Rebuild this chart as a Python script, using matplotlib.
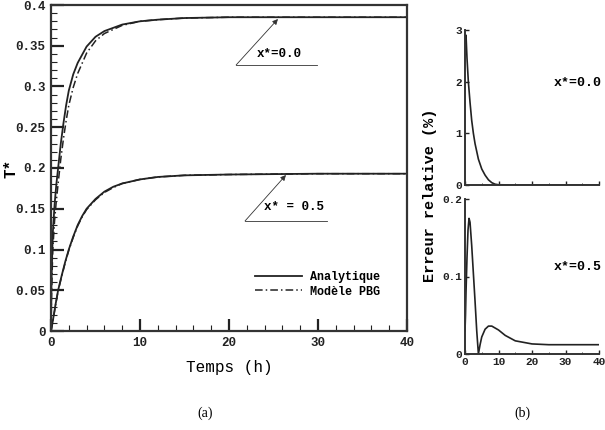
import matplotlib
matplotlib.use("Agg")
import matplotlib.pyplot as plt
from matplotlib.ticker import MultipleLocator, FuncFormatter

# ---- data ----
t_a0 = [0, 0.05, 0.2, 0.4, 0.6, 0.85, 1.1, 1.4, 1.7, 2.0, 2.5, 3.0, 4.0, 5.0, 6.0, 8.0, 10, 12, 15, 20, 25, 30, 40]
T_a0 = [0, 0.06, 0.12, 0.155, 0.18, 0.205, 0.23, 0.255, 0.277, 0.295, 0.315, 0.329, 0.349, 0.361, 0.368, 0.376, 0.380, 0.382, 0.384, 0.385, 0.385, 0.385, 0.385]
t_p0 = [0, 0.05, 0.2, 0.4, 0.6, 0.85, 1.1, 1.4, 1.7, 2.0, 2.5, 3.0, 4.0, 5.0, 6.0, 8.0, 10, 12, 15, 20, 25, 30, 40]
T_p0 = [0, 0.04, 0.10, 0.135, 0.16, 0.186, 0.211, 0.236, 0.258, 0.277, 0.299, 0.316, 0.341, 0.356, 0.365, 0.375, 0.380, 0.382, 0.384, 0.385, 0.385, 0.385, 0.385]
t_a5 = [0, 0.2, 0.5, 0.8, 1.2, 1.6, 2.0, 2.5, 3.0, 3.5, 4.0, 5.0, 6.0, 7.0, 8.0, 10, 12, 15, 20, 25, 30, 40]
T_a5 = [0, 0.012, 0.032, 0.05, 0.068, 0.085, 0.1, 0.116, 0.13, 0.141, 0.15, 0.162, 0.171, 0.177, 0.181, 0.186, 0.189, 0.191, 0.192, 0.1925, 0.193, 0.193]
T_p5 = [0, 0.011, 0.031, 0.049, 0.067, 0.084, 0.099, 0.115, 0.129, 0.140, 0.149, 0.161, 0.170, 0.176, 0.181, 0.186, 0.189, 0.191, 0.192, 0.1925, 0.193, 0.193]

t_e0 = [0, 0.3, 0.6, 1.0, 1.5, 2.0, 2.5, 3.0, 4.0, 5.0, 6.0, 7.0, 8.0, 9.0, 10, 15, 20, 30, 40]
e_0 = [2.75, 2.9, 2.45, 2.0, 1.6, 1.25, 1.0, 0.8, 0.5, 0.31, 0.19, 0.1, 0.045, 0.015, 0.005, 0, 0, 0, 0]
t_e5 = [0, 0.15, 0.3, 0.6, 0.9, 1.2, 1.5, 2.0, 2.5, 3.0, 3.5, 4.0, 4.5, 5.0, 6.0, 7.0, 8.0, 10, 12, 15, 20, 25, 30, 40]
e_5 = [0.03, 0.05, 0.08, 0.125, 0.16, 0.175, 0.17, 0.14, 0.104, 0.068, 0.03, 0.0, 0.012, 0.022, 0.032, 0.036, 0.036, 0.031, 0.024, 0.017, 0.013, 0.012, 0.012, 0.012]

x_ticks = [0, 10, 20, 30, 40]
labels_pos = ["x*=0.0", "x* = 0.5"]
legend_names = ["Analytique", "Modèle PBG"]

MONO = ["Liberation Mono", "DejaVu Sans Mono"]
plt.rcParams["font.family"] = MONO
plt.rcParams["font.weight"] = "bold"
DASHDOT = (0, (5, 2, 1, 2))

fig = plt.figure(figsize=(6.05, 4.30), dpi=100)

def fmt(v, pos):
    s = ("%.2f" % v).rstrip("0").rstrip(".")
    return s

# ---- panel (a) ----
ax = fig.add_axes([51/605, 1-331/430, 356/605, 326/430])
ax.plot(t_a0, T_a0, color="#222222", lw=1.3, ls="-", label=legend_names[0])
ax.plot(t_p0, T_p0, color="#222222", lw=1.1, ls=DASHDOT, label=legend_names[1])
ax.plot(t_a5, T_a5, color="#222222", lw=1.3, ls="-")
ax.plot(t_a5, T_p5, color="#222222", lw=1.1, ls=DASHDOT)
ax.set_xlim(0, 40)
ax.set_ylim(0, 0.4)
ax.set_xticks(x_ticks)
ax.yaxis.set_major_locator(MultipleLocator(0.05))
ax.yaxis.set_major_formatter(FuncFormatter(fmt))
ax.xaxis.set_minor_locator(MultipleLocator(2))
ax.yaxis.set_minor_locator(MultipleLocator(0.01))
ax.tick_params(which="both", direction="in", top=False, right=False, labelsize=9, colors="#222222")
ax.tick_params(which="major", length=9, width=1.6, pad=4)
ax.tick_params(which="minor", length=4, width=0.8)
for sp in ax.spines.values():
    sp.set_linewidth(1.6)
    sp.set_color("#333333")
ax.set_xlabel("Temps (h)", fontsize=11.5, labelpad=8)
fig.text(11/605, 1-168/430, "T*", rotation=90, fontsize=11.5, ha="center", va="center")

# annotations
ax.annotate("", xy=(25.5, 0.3828), xytext=(20.8, 0.3264),
            arrowprops=dict(arrowstyle="-|>", lw=0.6, color="#333333", mutation_scale=8, shrinkA=0, shrinkB=0))
ax.plot([20.8, 29.9], [0.3264, 0.3264], color="#333333", lw=0.6)
ax.text(23.1, 0.3395, labels_pos[0], fontsize=9, va="center", ha="left")
ax.annotate("", xy=(26.4, 0.1914), xytext=(21.8, 0.135),
            arrowprops=dict(arrowstyle="-|>", lw=0.6, color="#333333", mutation_scale=8, shrinkA=0, shrinkB=0))
ax.plot([21.8, 31.0], [0.135, 0.135], color="#333333", lw=0.6)
ax.text(23.9, 0.1525, labels_pos[1], fontsize=9, va="center", ha="left")

leg = ax.legend(loc="center left", bbox_to_anchor=(0.573, 0.143), frameon=False,
                fontsize=8.5, handlelength=4.0, handletextpad=0.7, borderpad=0,
                borderaxespad=0, labelspacing=0.2)

# ---- panel (b) ----
axt = fig.add_axes([465/605, 1-185/430, 134/605, 155/430])
axb = fig.add_axes([465/605, 1-354/430, 134/605, 155/430])
axt.plot(t_e0, e_0, color="#222222", lw=1.2)
axb.plot(t_e5, e_5, color="#222222", lw=1.2)
axt.set_xlim(0, 40); axt.set_ylim(0, 3)
axb.set_xlim(0, 40); axb.set_ylim(0, 0.2)
axt.set_yticks([0, 1, 2, 3])
axb.set_yticks([0, 0.1, 0.2])
axb.yaxis.set_major_formatter(FuncFormatter(fmt))
for a in (axt, axb):
    a.set_xticks(x_ticks)
    a.xaxis.set_minor_locator(MultipleLocator(5))
    a.spines["top"].set_visible(False)
    a.spines["right"].set_visible(False)
    for s in ("left", "bottom"):
        a.spines[s].set_linewidth(1.4)
        a.spines[s].set_color("#333333")
    a.tick_params(which="both", direction="in", labelsize=8, colors="#222222", pad=2)
    a.tick_params(which="major", length=3, width=1.0)
    a.tick_params(which="minor", length=1.5, width=0.6)
axt.tick_params(labelbottom=False)
axt.text(1.02, 0.66, labels_pos[0].replace(" ", ""), transform=axt.transAxes, fontsize=9.5, ha="right", va="center")
axb.text(1.02, 0.56, labels_pos[1].replace(" ", ""), transform=axb.transAxes, fontsize=9.5, ha="right", va="center")
fig.text(430/605, 1-195/430, "Erreur relative (%)", rotation=90, fontsize=11, ha="center", va="center")

fig.text(205/605, 1-413/430, "(a)", family=["Liberation Serif"], fontweight="normal", fontsize=10, ha="center", va="center")
fig.text(522/605, 1-413/430, "(b)", family=["Liberation Serif"], fontweight="normal", fontsize=10, ha="center", va="center")

fig.savefig("out.png", dpi=100)
